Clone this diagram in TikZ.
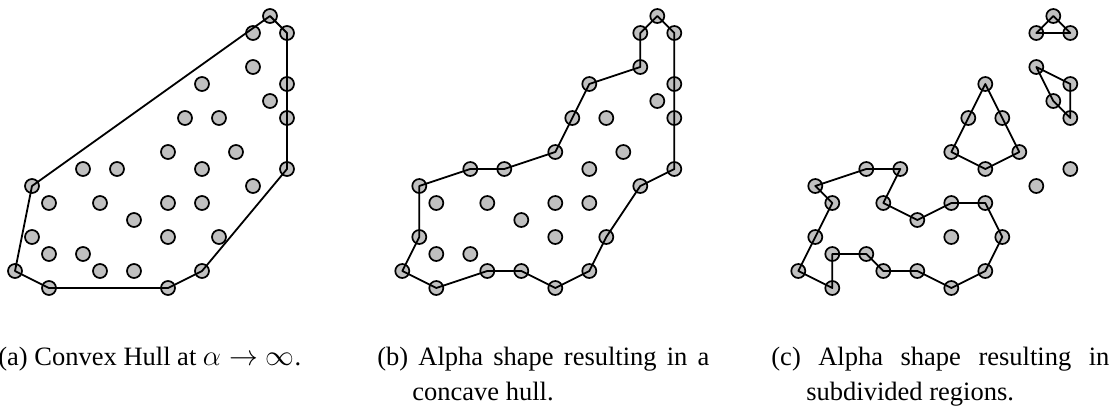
\documentclass[tikz,border=0pt]{standalone}
\usepackage{fontspec}
\setmainfont{Liberation Serif}
\usepackage{xcolor}
\usepackage{tikz}
\usetikzlibrary{positioning}
\definecolor{ptfill}{RGB}{192,192,192}
% grid positions of the sample points (column/row)
\newcommand{\ptlist}{15/0, 14/1, 16/1, 14/3, 11/4, 16/4, 15/5, 10/6, 12/6, 16/6,
  9/8, 13/8, 4/9, 6/9, 11/9, 16/9, 1/10, 14/10, 2/11, 5/11, 9/11, 11/11, 7/12,
  1/13, 9/13, 12/13, 2/14, 4/14, 0/15, 5/15, 7/15, 11/15, 2/16, 9/16}

\begin{document}
\begin{tikzpicture}[
  x=0.5pt, y=-0.5pt,
  pt/.style={circle, draw, fill=ptfill, line width=0.85pt, minimum size=7pt, inner sep=0pt},
  hull/.style={line width=0.9pt, line join=round},
  panel/.style={x=8.5pt, y=-8.5pt},
  captext/.style={font=\fontsize{13.25}{17.5}\selectfont, inner sep=0pt, anchor=base west},
]
\useasboundingbox (0,0) rectangle (1118,408);
% point sets, one copy per panel
\foreach \p/\dx in {a/7.5, b/201.15, c/399.15} {
  \begin{scope}[panel, xshift=\dx pt, yshift=-8pt]
    \foreach \i/\j in \ptlist \node[pt] (\p-\i-\j) at (\i,\j) {};
  \end{scope}
}
% (a) convex hull
\draw[hull] (a-0-15.center) -- (a-2-16.center) -- (a-9-16.center) -- (a-11-15.center)
  -- (a-16-9.center) -- (a-16-1.center) -- (a-15-0.center) -- (a-1-10.center) -- cycle;
% (b) concave hull
\draw[hull] (b-0-15.center) -- (b-2-16.center) -- (b-5-15.center) -- (b-7-15.center)
  -- (b-9-16.center) -- (b-11-15.center) -- (b-12-13.center) -- (b-14-10.center)
  -- (b-16-9.center) -- (b-16-6.center) -- (b-16-4.center) -- (b-16-1.center)
  -- (b-15-0.center) -- (b-14-1.center) -- (b-14-3.center) -- (b-11-4.center)
  -- (b-10-6.center) -- (b-9-8.center) -- (b-6-9.center) -- (b-4-9.center)
  -- (b-1-10.center) -- (b-1-13.center) -- cycle;
% (c) subdivided regions
\draw[hull] (c-15-0.center) -- (c-14-1.center) -- (c-16-1.center) -- cycle;
\draw[hull] (c-14-3.center) -- (c-16-4.center) -- (c-16-6.center) -- (c-15-5.center) -- cycle;
\draw[hull] (c-11-4.center) -- (c-12-6.center) -- (c-13-8.center) -- (c-11-9.center)
  -- (c-9-8.center) -- (c-10-6.center) -- cycle;
\draw[hull] (c-1-10.center) -- (c-4-9.center) -- (c-6-9.center) -- (c-5-11.center)
  -- (c-7-12.center) -- (c-9-11.center) -- (c-11-11.center) -- (c-12-13.center)
  -- (c-11-15.center) -- (c-9-16.center) -- (c-7-15.center) -- (c-5-15.center)
  -- (c-4-14.center) -- (c-2-14.center) -- (c-2-16.center) -- (c-0-15.center)
  -- (c-1-13.center) -- (c-2-11.center) -- cycle;
% captions
\node[captext] (capa) at (-2,365) {(a) Convex Hull at $\alpha\to\infty$.};
\node[captext, text width=166pt, align=justify] (capb) at (377,365)
  {\hangindent 17.5pt\hangafter 1 (b) Alpha shape resulting in a \mbox{concave} hull.\par};
\node[captext, text width=169pt, align=justify] (capc) at (771,365)
  {\hangindent 17.5pt\hangafter 1 (c) Alpha shape resulting in \mbox{subdivided} regions.\par};
\end{tikzpicture}
\end{document}
